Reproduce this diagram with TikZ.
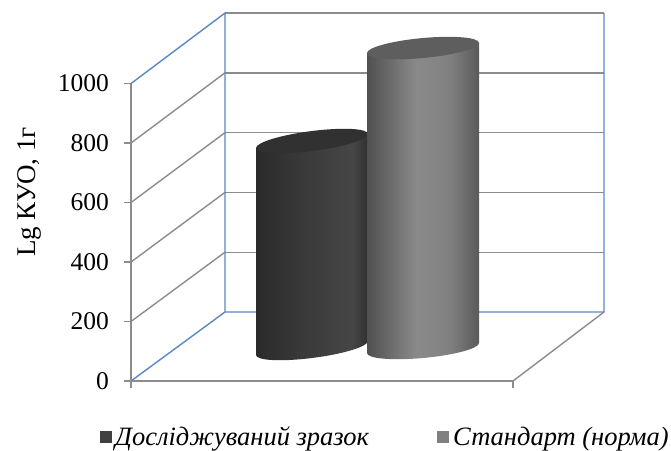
\documentclass[tikz,border=0pt]{standalone}
\usepackage{fontspec}
\setmainfont{Liberation Serif}
\definecolor{gridgray}{HTML}{8C8C8C}
\definecolor{axblue}{HTML}{5B87C5}
\definecolor{dka}{HTML}{2A2A2A}
\definecolor{dkb}{HTML}{393939}
\definecolor{dkc}{HTML}{464646}
\definecolor{dkd}{HTML}{303030}
\definecolor{dktop}{HTML}{313131}
\definecolor{gra}{HTML}{505050}
\definecolor{grb}{HTML}{8A8A8A}
\definecolor{grc}{HTML}{808080}
\definecolor{grd}{HTML}{5A5A5A}
\definecolor{grtop}{HTML}{5E5E5E}
\definecolor{legdark}{HTML}{404040}
\definecolor{leggray}{HTML}{808080}
\pgfdeclarehorizontalshading{darkcyl}{100bp}{color(0bp)=(dka); color(25bp)=(dka); color(45bp)=(dkb); color(68bp)=(dkc); color(75bp)=(dkd); color(100bp)=(dkd)}
\pgfdeclarehorizontalshading{graycyl}{100bp}{color(0bp)=(gra); color(25bp)=(gra); color(47bp)=(grb); color(62bp)=(grc); color(75bp)=(grd); color(100bp)=(grd)}
\tikzset{
  gridline/.style={draw=gridgray, line width=1.4pt},
  blueline/.style={draw=axblue, line width=1.4pt},
  ticklab/.style={anchor=east, font=\fontsize{25.5}{25.5}\selectfont, inner sep=0pt},
  legtext/.style={anchor=base west, font=\fontsize{26.5}{26.5}\selectfont\itshape, inner sep=0pt},
}
\begin{document}
\begin{tikzpicture}[x=1pt, y=-1pt]
\useasboundingbox (0,0) rectangle (671,450);
% back wall grid lines
\foreach \i in {1,...,4} {
  \pgfmathsetmacro{\yb}{312-59.8*\i}
  \pgfmathsetmacro{\yf}{381-59.5*\i}
  \draw[gridline] (225,\yb) -- (604,\yb);
  \draw[gridline] (131,\yf) -- (225,\yb);
}
\coordinate (bwtl) at (225,13);
\coordinate (bwtr) at (604,13);
\coordinate (bwbl) at (225,312);
\coordinate (bwbr) at (604,312);
\coordinate (fatop) at (131,83.5);
\coordinate (fabot) at (131,381);
\coordinate (fbr) at (513,381);
\draw[gridline] (bwtl) -- (bwtr);
\draw[blueline] (fatop) -- (bwtl) -- (bwbl) -- (bwbr) -- (bwtr);
\draw[blueline] (fabot) -- (bwbl);
\draw[gridline] (fbr) -- (bwbr);
% front axes
\draw[gridline] (fatop) -- (131,388);
\draw[gridline] (124,381) -- (fbr) -- (513,388);
\foreach \i/\lab in {0/0,1/200,2/400,3/600,4/800,5/1000} {
  \pgfmathsetmacro{\yf}{381-59.5*\i}
  \draw[gridline] (124,\yf) -- (131,\yf);
  \node[ticklab] (t\i) at (109,\yf) {\lab};
}
% dark cylinder
\begin{scope}[shift={(312,348)}, x=1pt, y=1pt, cm={1,0.125,0,1,(0,0)}]
  \shade[shading=darkcyl] (-56,0) -- (-56,207) -- (56,207) -- (56,0) arc[start angle=0, end angle=-180, x radius=56, y radius=10] -- cycle;
  \fill[dktop] (0,207) ellipse[x radius=56, y radius=10];
\end{scope}
% gray cylinder
\begin{scope}[shift={(423,348)}, x=1pt, y=1pt, cm={1,0.09,0,1,(0,0)}]
  \shade[shading=graycyl] (-56,0) -- (-56,300) -- (56,300) -- (56,0) arc[start angle=0, end angle=-180, x radius=56, y radius=10] -- cycle;
  \fill[grtop] (0,300) ellipse[x radius=56, y radius=10];
\end{scope}
% axis title
\node[rotate=90, font=\fontsize{27}{27}\selectfont, inner sep=0pt] (ytitle) at (29,192) {Lg КУО, 1г};
% legend
\fill[legdark] (100,431) rectangle (112,443);
\node[legtext] (leg1) at (115,445) {Досліджуваний зразок};
\fill[leggray] (437,431) rectangle (449,443);
\node[legtext] (leg2) at (453,445) {Стандарт (норма)};
\end{tikzpicture}
\end{document}
